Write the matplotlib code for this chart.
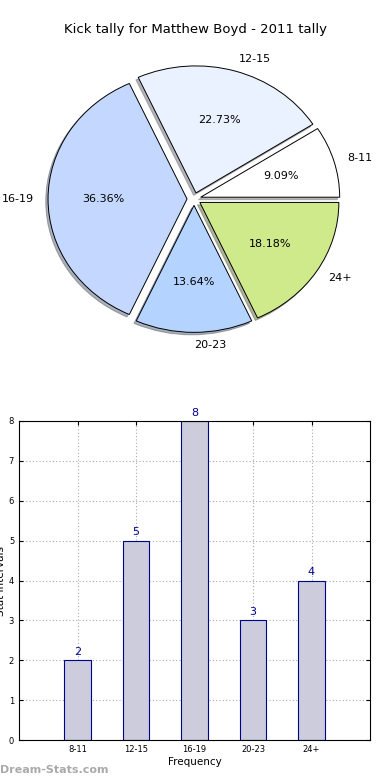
import matplotlib
matplotlib.use("Agg")
import matplotlib.pyplot as plt
import numpy as np

categories = ["8-11", "12-15", "16-19", "20-23", "24+"]
counts = [2, 5, 8, 3, 4]
pie_colors = ["#ffffff", "#eaf1ff", "#c4d8ff", "#b4d4ff", "#cfea8a"]
title = "Kick tally for Matthew Boyd - 2011 tally"

fig = plt.figure(figsize=(3.9, 7.8), dpi=100)

# Pie axes (elliptical, like old matplotlib without equal aspect)
k = 1.35
rx, ry = 139, 127
cx, cy = 194, 199
axp = fig.add_axes([(cx - rx * k) / 390, (780 - cy - ry * k) / 780,
                    2 * rx * k / 390, 2 * ry * k / 780])
wedges, texts, autotexts = axp.pie(
    counts, labels=categories, colors=pie_colors, explode=[0.05] * 5,
    autopct="%1.2f%%", shadow={"ox": -0.012, "oy": -0.014, "shade": 0.55},
    startangle=0, pctdistance=0.6,
    labeldistance=1.1, wedgeprops=dict(edgecolor="black", linewidth=0.7),
    textprops=dict(fontsize=8))
axp.set_aspect("auto")
axp.set_xlim(-k, k)
axp.set_ylim(-k, k)
axp.axis("off")
fig.text(0.5, 1 - 30 / 780, title, ha="center", va="center", fontsize=9.5)

# Bar axes
axb = fig.add_axes([19 / 390, 40 / 780, 351 / 390, 319 / 780])
x = np.arange(len(categories))
axb.bar(x, counts, width=0.45, color="#ccccdd", edgecolor="darkblue",
        linewidth=0.8, align="center", zorder=2)
for xi, v in zip(x, counts):
    axb.text(xi, v + 0.08, str(v), ha="center", va="bottom", fontsize=8,
             color="darkblue")
axb.set_xlim(-1, 5)
axb.set_ylim(0, 8)
axb.set_xticks(x)
axb.set_xticklabels(categories)
axb.set_yticks(range(0, 9))
axb.tick_params(labelsize=6, direction="in", top=True, right=True, length=3)
axb.grid(True, linestyle=(0, (1, 2)), color="#aaaaaa", linewidth=0.8, zorder=0)
axb.set_axisbelow(True)
axb.set_xlabel("Frequency", fontsize=7.5, labelpad=2)
axb.set_ylabel("Stat Intervals", fontsize=7.5, labelpad=2)
for s in axb.spines.values():
    s.set_linewidth(0.8)

fig.text(0.0, 1 - 770 / 780, "Dream-Stats.com", ha="left", va="center",
         fontsize=8, color="#aaaaaa", fontweight="bold")

fig.savefig("out.png", dpi=100)
